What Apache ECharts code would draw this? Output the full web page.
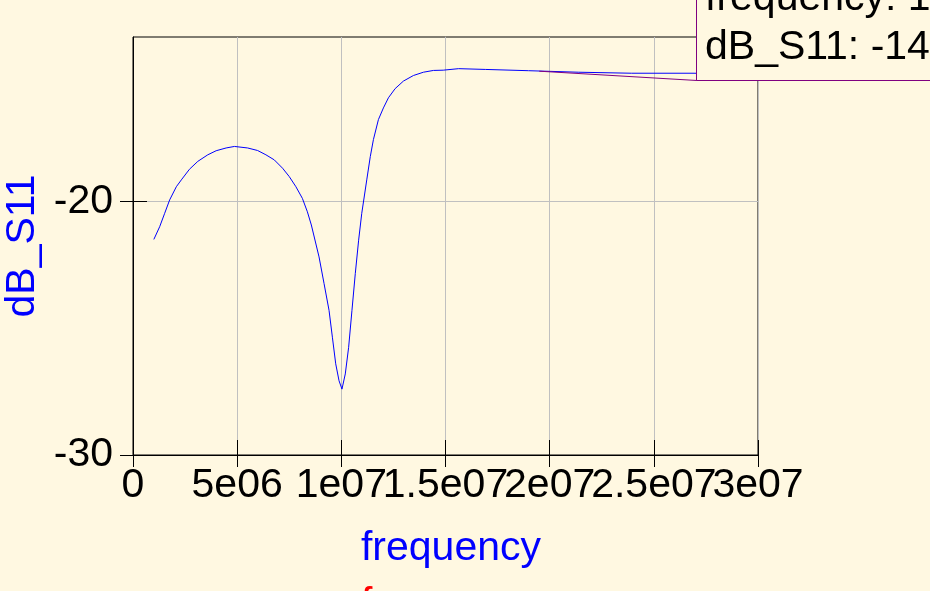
<!DOCTYPE html>
<html><head><meta charset="utf-8">
<script src="https://cdn.jsdelivr.net/npm/echarts@6/dist/echarts.min.js"></script>
<style>html,body{margin:0;padding:0;background:#fff8e1;}#c{width:930px;height:591px;}</style>
</head><body><div id="c"></div>
<script>
// frequency (Hz) and dB_S11
const freq = [1.00e6,1.28e6,1.52e6,1.76e6,2.08e6,2.32e6,2.71e6,3.11e6,3.59e6,3.99e6,4.47e6,4.87e6,5.50e6,5.98e6,6.38e6,6.78e6,7.18e6,7.50e6,7.82e6,8.13e6,8.37e6,8.56e6,8.93e6,9.17e6,9.41e6,9.57e6,9.73e6,9.89e6,1.003e7,1.019e7,1.035e7,1.051e7,1.067e7,1.083e7,1.098e7,1.122e7,1.139e7,1.154e7,1.178e7,1.202e7,1.226e7,1.258e7,1.298e7,1.346e7,1.394e7,1.442e7,1.489e7,1.563e7,1.691e7,1.898e7,2.137e7,2.392e7,2.688e7,3.0e7];
const dbS11 = [-21.49,-20.99,-20.46,-19.93,-19.41,-19.14,-18.72,-18.41,-18.15,-17.99,-17.88,-17.82,-17.88,-17.98,-18.15,-18.35,-18.68,-19.01,-19.41,-19.87,-20.40,-20.92,-22.18,-23.23,-24.29,-25.35,-26.40,-27.07,-27.40,-26.80,-25.75,-24.29,-22.84,-21.52,-20.46,-19.14,-18.22,-17.55,-16.76,-16.30,-15.90,-15.54,-15.24,-15.02,-14.89,-14.82,-14.81,-14.75,-14.78,-14.83,-14.89,-14.93,-14.93,-14.96];
const xTickValues = [0,5e6,1e7,1.5e7,2e7,2.5e7,3e7];
const xTickLabels = ['0','5e06','1e07','1.5e07','2e07','2.5e07','3e07'];
const yTickValues = [-30,-20];
const yTickLabels = ['-30','-20'];
const markerPoint = [1.95e7, -14.85];
const markerLines = ['frequency: 1.95e+07','dB_S11: -14.85'];
const xName = 'frequency';
const yName = 'dB_S11';
const secondName = 'frequency';

const BG = '#fff8e1';
const FONT = '"Liberation Sans", Arial, sans-serif';
const FS = 41;
const chart = echarts.init(document.getElementById('c'), null, {renderer:'canvas'});
const lineData = freq.map((f,i)=>[f, dbS11[i]]);
const xFmt = v => { const i = xTickValues.indexOf(v); return i>=0 ? xTickLabels[i] : ''; };
const yFmt = v => { const i = yTickValues.indexOf(v); return i>=0 ? yTickLabels[i] : ''; };
const xLabelsA = xTickValues.filter((v,i)=>i%2===0);
const xLabelsB = xTickValues.filter((v,i)=>i%2===1);
const xLabelStyle = {show:true, margin:10, fontSize:FS, color:'#000', fontFamily:FONT, formatter:xFmt,
                     hideOverlap:false, showMinLabel:true, showMaxLabel:true};
chart.setOption({
  backgroundColor: BG,
  animation: false,
  grid: {left:133, top:37, right:172, bottom:136, show:true, borderColor:'#000', borderWidth:1,
         backgroundColor:'transparent', containLabel:false, outerBoundsMode:'none'},
  xAxis: [
    {type:'value', min:0, max:3e7, interval:5e6, position:'bottom',
     axisLine:{show:true, lineStyle:{color:'#000', width:1}},
     axisTick:{show:true, inside:false, length:12, lineStyle:{color:'#000', width:1}},
     axisLabel:Object.assign({customValues:xLabelsA}, xLabelStyle),
     splitLine:{show:true, lineStyle:{color:'#c0c0c0', width:1}},
     name:xName, nameLocation:'middle', nameGap:73,
     nameTextStyle:{color:'#0000ff', fontSize:FS, fontFamily:FONT, padding:[0,0,0,11]}},
    {type:'value', min:0, max:3e7, interval:5e6, position:'bottom',
     axisLine:{show:false}, axisTick:{show:true, inside:true, length:15, lineStyle:{color:'#000', width:1}},
     axisLabel:Object.assign({customValues:xLabelsB}, xLabelStyle), splitLine:{show:false}}
  ],
  yAxis: [
    {type:'value', min:-30, max:-13.5, interval:10, position:'left',
     axisLine:{show:true, lineStyle:{color:'#000', width:1}},
     axisTick:{show:true, inside:false, length:13, customValues:yTickValues, lineStyle:{color:'#000', width:1}},
     axisLabel:{show:true, margin:20, fontSize:FS, color:'#000', fontFamily:FONT, formatter:yFmt,
                customValues:yTickValues, hideOverlap:false},
     splitLine:{show:true, lineStyle:{color:'#c0c0c0', width:1}},
     name:yName, nameLocation:'middle', nameGap:78,
     nameTextStyle:{color:'#0000ff', fontSize:FS, fontFamily:FONT}},
    {type:'value', min:-30, max:-13.5, interval:10, position:'left',
     axisLine:{show:false}, axisTick:{show:true, inside:true, length:14, customValues:yTickValues, lineStyle:{color:'#000', width:1}},
     axisLabel:{show:false}, splitLine:{show:false}}
  ],
  series: [{
    type:'line', xAxisIndex:0, yAxisIndex:0, data:lineData, showSymbol:false, smooth:false,
    lineStyle:{color:'#0000ff', width:1}, z:3
  }]
});
const p = chart.convertToPixel({xAxisIndex:0, yAxisIndex:0}, markerPoint);
chart.setOption({
  graphic: [
    {type:'line', shape:{x1:p[0], y1:p[1], x2:697, y2:80.5}, style:{stroke:'#800080', lineWidth:1}, z:50},
    {type:'rect', shape:{x:696.5, y:-20, width:300, height:100.5}, style:{fill:BG, stroke:'#800080', lineWidth:1}, z:60},
    {type:'text', x:705, y:-22, style:{text:markerLines[0], font:FS+'px '+FONT, fill:'#000', verticalAlign:'top', align:'left'}, z:61},
    {type:'text', x:705, y:27, style:{text:markerLines[1], font:FS+'px '+FONT, fill:'#000', verticalAlign:'top', align:'left'}, z:61},
    {type:'text', x:361, y:584, style:{text:secondName, font:FS+'px '+FONT, fill:'#ff0000', verticalAlign:'top', align:'left'}, z:61}
  ]
});
</script></body></html>
